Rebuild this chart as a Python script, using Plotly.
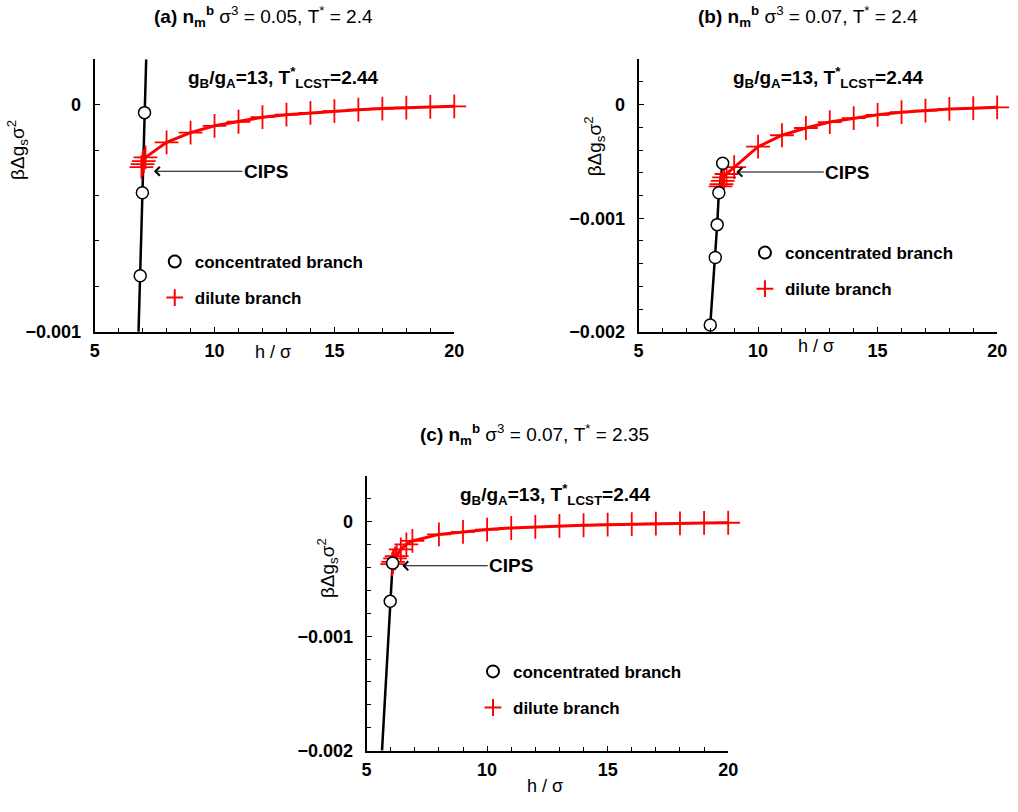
import plotly.graph_objects as go

# ---------------- data ----------------
# panel (a): n_m^b sigma^3 = 0.05, T* = 2.4
a_conc_h = [6.83, 6.90, 6.99, 7.08, 7.15]
a_conc_g = [-0.00100, -0.000753, -0.000388, -0.000035, 0.00020]
a_circ_h = [6.90, 6.99, 7.08]
a_circ_g = [-0.000753, -0.000388, -0.000035]
a_dil_h = [6.95, 7.0, 7.05, 7.12, 8, 9, 10, 11, 12, 13, 14, 15, 16, 17, 18, 19, 20]
a_dil_g = [-0.000275, -0.000262, -0.000248, -0.000232, -0.000166, -0.000123, -0.000093,
           -0.000075, -0.000055, -0.000044, -0.000036, -0.000028, -0.000022, -0.000017,
           -0.000013, -0.000010, -0.000007]
a_cips = (7.47, -0.000293)

# panel (b): n_m^b sigma^3 = 0.07, T* = 2.4
b_conc_h = [8.00, 8.21, 8.29, 8.36, 8.52]
b_conc_g = [-0.00194, -0.001345, -0.001056, -0.000775, -0.000515]
b_dil_h = [8.43, 8.47, 8.52, 8.58, 8.68, 9, 10, 11, 12, 13, 14, 15, 16, 17, 18, 19, 20]
b_dil_g = [-0.00072, -0.00070, -0.00067, -0.00064, -0.00061, -0.00055, -0.00037,
           -0.000269, -0.000205, -0.000153, -0.000118, -0.000089, -0.000066, -0.000052,
           -0.000037, -0.000031, -0.000023]
b_cips = (9.09, -0.000593)

# panel (c): n_m^b sigma^3 = 0.07, T* = 2.35
c_conc_h = [5.64, 5.98, 6.08]
c_conc_g = [-0.00200, -0.000695, -0.000361]
c_circ_h = [5.98, 6.08]
c_circ_g = [-0.000695, -0.000361]
c_dil_h = [6.06, 6.1, 6.18, 6.25, 6.42, 6.65, 6.9, 8, 9, 10, 11, 12, 13, 14, 15, 16, 17, 18, 19, 20]
c_dil_g = [-0.00037, -0.00035, -0.00032, -0.00030, -0.00024, -0.000197, -0.000167,
           -0.00011, -0.000088, -0.000068, -0.000054, -0.000044, -0.000036, -0.00003,
           -0.000025, -0.00002, -0.000016, -0.000013, -0.00001, -0.000008]
c_cips = (6.48, -0.000384)

x_ticks = [5, 10, 15, 20]
x_ticktext = ["5", "10", "15", "20"]
ya_ticks = [-0.001, 0]
ya_ticktext = ["\u22120.001", "0"]
ybc_ticks = [-0.002, -0.001, 0]
ybc_ticktext = ["\u22120.002", "\u22120.001", "0"]

titles = [
    "<b>(a) n<sub>m</sub><sup>b</sup></b> \u03c3<sup>3</sup> = 0.05, T<sup>*</sup> = 2.4",
    "<b>(b) n<sub>m</sub><sup>b</sup></b> \u03c3<sup>3</sup> = 0.07, T<sup>*</sup> = 2.4",
    "<b>(c) n<sub>m</sub><sup>b</sup></b> \u03c3<sup>3</sup> = 0.07, T<sup>*</sup> = 2.35",
]
params_label = "<b>g<sub>B</sub>/g<sub>A</sub>=13, T<sup>*</sup><sub>LCST</sub>=2.44</b>"
conc_name = "concentrated branch"
dil_name = "dilute branch"

W, H = 1018, 812
FONT = "Arial, Liberation Sans, sans-serif"
RED = "#ff0000"


def px(xp):
    return xp / W


def py(yp):
    return 1 - yp / H


fig = go.Figure()

panels = [
    # suffix, line h/g, circle h/g, dilute h/g, cips, legend name
    ("", a_conc_h, a_conc_g, a_circ_h, a_circ_g, a_dil_h, a_dil_g, a_cips, "legend"),
    ("2", b_conc_h, b_conc_g, b_conc_h, b_conc_g, b_dil_h, b_dil_g, b_cips, "legend2"),
    ("3", c_conc_h, c_conc_g, c_circ_h, c_circ_g, c_dil_h, c_dil_g, c_cips, "legend3"),
]

for sfx, lh, lg, ch, cg, dh, dg, cips, leg in panels:
    xa, ya = "x" + sfx, "y" + sfx
    fig.add_trace(go.Scatter(x=lh, y=lg, xaxis=xa, yaxis=ya, mode="lines",
                             line=dict(color="black", width=2.5), showlegend=False))
    fig.add_trace(go.Scatter(x=dh, y=dg, xaxis=xa, yaxis=ya, mode="lines",
                             line=dict(color=RED, width=3), showlegend=False))
    fig.add_trace(go.Scatter(x=dh, y=dg, xaxis=xa, yaxis=ya, mode="markers",
                             marker=dict(symbol="cross-thin", size=17,
                                         line=dict(color=RED, width=1.8)),
                             name=dil_name, legend=leg, legendgroup="d" + sfx,
                             legendrank=2, cliponaxis=False))
    fig.add_trace(go.Scatter(x=ch, y=cg, xaxis=xa, yaxis=ya, mode="markers",
                             marker=dict(symbol="circle", size=12, color="white",
                                         line=dict(color="black", width=1.5)),
                             name=conc_name, legend=leg, legendgroup="c" + sfx,
                             legendrank=1, cliponaxis=False))

axis_common = dict(
    showline=True, linecolor="black", linewidth=2, mirror=False,
    showgrid=False, zeroline=False,
    ticks="inside", ticklen=5, tickwidth=1.2, tickcolor="black",
    tickfont=dict(family=FONT, size=18, color="black", weight="bold"),
)

# pixel boxes of the three plotting areas
boxes = {
    "": (91, 456, 60, 336),
    "2": (643, 1007, 60, 336),
    "3": (367, 734, 482, 760),
}
yranges = {"": [-0.001, 0.0002], "2": [-0.002, 0.0004], "3": [-0.002, 0.0004]}
yticks = {"": (ya_ticks, ya_ticktext), "2": (ybc_ticks, ybc_ticktext), "3": (ybc_ticks, ybc_ticktext)}

layout = {}
for sfx, (l, r, t, b) in boxes.items():
    layout["xaxis" + sfx] = dict(
        axis_common, domain=[px(l), px(r)], range=[5, 20], anchor="y" + sfx,
        tickvals=x_ticks, ticktext=x_ticktext, ticklabelstandoff=2,
        minor=dict(tickmode="linear", tick0=5, dtick=1, ticks="inside", ticklen=4,
                   tickwidth=1, tickcolor="black"),
    )
    tv, tt = yticks[sfx]
    layout["yaxis" + sfx] = dict(
        axis_common, domain=[py(b), py(t)], range=yranges[sfx], anchor="x" + sfx,
        tickvals=tv, ticktext=tt, ticklabelstandoff=8,
        minor=dict(tickmode="linear", tick0=0, dtick=0.0002, ticks="inside", ticklen=4,
                   tickwidth=1, tickcolor="black"),
    )

legend_common = dict(
    bgcolor="rgba(0,0,0,0)", borderwidth=0, xanchor="left", yanchor="top",
    font=dict(family=FONT, size=17, color="black", weight="bold"),
    traceorder="grouped", tracegroupgap=11, itemsizing="constant",
)
layout["legend"] = dict(legend_common, x=px(152), y=py(247))
layout["legend2"] = dict(legend_common, x=px(751), y=py(238))
layout["legend3"] = dict(legend_common, x=px(475), y=py(662))

ann = []


def text_at(txt, x0, y0, size, **kw):
    ann.append(dict(text=txt, x=px(x0), y=py(y0), xref="paper", yref="paper",
                    xanchor="center", yanchor="middle", showarrow=False,
                    font=dict(family=FONT, size=size, color="black"), **kw))


for txt, (x0, y0) in zip(titles, [(262, 17), (815, 17), (537, 440)]):
    text_at(txt, x0, y0, 19)

for x0, y0 in [(283, 78), (836, 78), (559, 501)]:
    text_at(params_label, x0, y0, 19)

# CIPS arrows
cips_offsets = [112, 111, 109]
for (sfx, *_rest), off in zip(panels, cips_offsets):
    cips = _rest[6]
    ann.append(dict(text="<b>CIPS</b>", x=cips[0], y=cips[1], xref="x" + sfx, yref="y" + sfx,
                    ax=off, ay=0, showarrow=True, arrowhead=4, arrowsize=1.6,
                    arrowwidth=1.1, arrowcolor="black",
                    font=dict(family=FONT, size=19, color="black")))

# axis titles
ytitle = "\u03b2\u0394g<sub>s</sub>\u03c3<sup>2</sup>"
for x0, y0 in [(12, 152), (598, 148), (328, 575)]:
    text_at(ytitle, x0, y0, 19, textangle=-90)
for x0, y0 in [(272, 356), (823, 350), (548, 796)]:
    text_at("h / \u03c3", x0, y0, 18)

fig.update_layout(
    width=W, height=H, margin=dict(l=0, r=0, t=0, b=0),
    paper_bgcolor="white", plot_bgcolor="white",
    annotations=ann, **layout,
)

fig.write_html("out.html")
